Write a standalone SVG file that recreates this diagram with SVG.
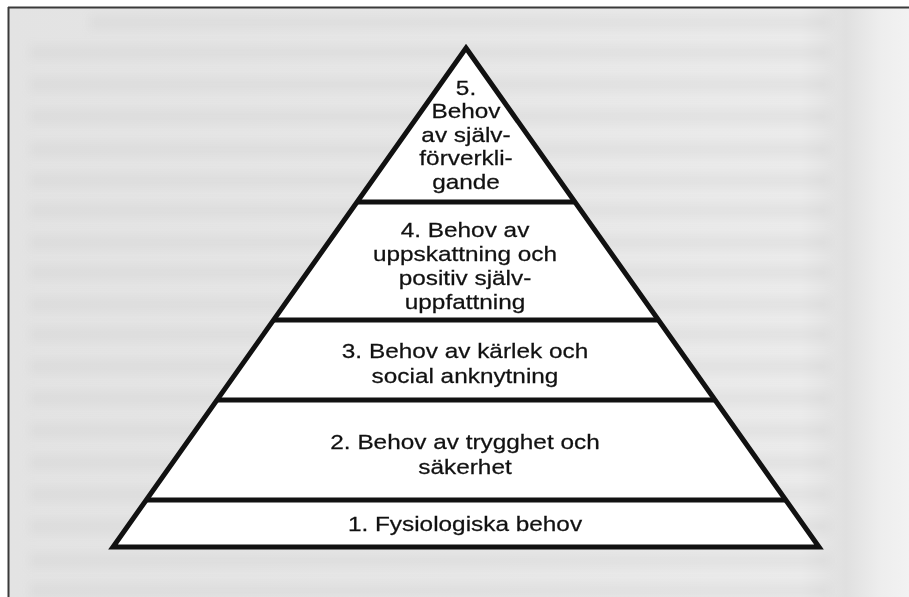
<svg xmlns="http://www.w3.org/2000/svg" width="909" height="597" viewBox="0 0 909 597">
  <defs>
    <linearGradient id="paper" x1="0" y1="0" x2="1" y2="0">
      <stop offset="0" stop-color="#e3e3e3"/>
      <stop offset="0.5" stop-color="#e7e7e7"/>
      <stop offset="0.88" stop-color="#ebebeb"/>
      <stop offset="0.93" stop-color="#e0e0e0"/>
      <stop offset="0.97" stop-color="#eeeeee"/>
      <stop offset="1" stop-color="#f2f2f2"/>
    </linearGradient>
    <filter id="blur" x="-5%" y="-50%" width="110%" height="200%">
      <feGaussianBlur stdDeviation="4"/>
    </filter>
    <style>
      .tier { fill: #ffffff; stroke: none; }
      .outline { fill: none; stroke: #111111; stroke-width: 5; stroke-linejoin: miter; stroke-miterlimit: 10; }
      .divider { stroke: #111111; stroke-width: 5; stroke-linecap: butt; }
      .label { font-family: "Liberation Sans", Arial, Helvetica, sans-serif; font-size: 21px; fill: #111111; stroke: #111111; stroke-width: 0.25; text-anchor: middle; }
      .band { fill: #c4c4c4; opacity: 0.22; }
    </style>
  </defs>

  <!-- paper -->
  <rect x="0" y="0" width="909" height="597" fill="#ffffff"/>
  <rect x="8" y="7" width="901" height="590" fill="url(#paper)"/>
  <g filter="url(#blur)">
    <rect class="band" x="90" y="16" width="740" height="13"/>
    <rect class="band" x="30" y="46" width="800" height="13"/>
    <rect class="band" x="30" y="78" width="800" height="13"/>
    <rect class="band" x="30" y="110" width="800" height="13"/>
    <rect class="band" x="30" y="143" width="800" height="13"/>
    <rect class="band" x="30" y="174" width="800" height="13"/>
    <rect class="band" x="30" y="204" width="800" height="13"/>
    <rect class="band" x="30" y="236" width="800" height="13"/>
    <rect class="band" x="30" y="266" width="800" height="13"/>
    <rect class="band" x="30" y="298" width="800" height="13"/>
    <rect class="band" x="30" y="328" width="800" height="13"/>
    <rect class="band" x="30" y="360" width="800" height="13"/>
    <rect class="band" x="30" y="392" width="800" height="13"/>
    <rect class="band" x="30" y="424" width="800" height="13"/>
    <rect class="band" x="30" y="456" width="800" height="13"/>
    <rect class="band" x="30" y="488" width="800" height="13"/>
    <rect class="band" x="30" y="520" width="800" height="13"/>
    <rect class="band" x="30" y="554" width="800" height="13"/>
    <rect class="band" x="30" y="584" width="800" height="13"/>
  </g>
  <line x1="8" y1="7.5" x2="909" y2="7.5" stroke="#3a3a3a" stroke-width="2"/>
  <line x1="8.5" y1="7" x2="8.5" y2="597" stroke="#3a3a3a" stroke-width="2"/>

  <!-- tiers -->
  <g id="level5">
    <polygon class="tier" points="466,48 357,202 575,202"/>
    <g transform="translate(466,0) scale(1.16,1)">
      <text class="label" x="0" y="95">5.</text>
      <text class="label" x="0" y="118">Behov</text>
      <text class="label" x="0" y="142">av själv-</text>
      <text class="label" x="0" y="165">förverkli-</text>
      <text class="label" x="0" y="189">gande</text>
    </g>
  </g>
  <g id="level4">
    <polygon class="tier" points="357,202 575,202 658.6,320 273.4,320"/>
    <g transform="translate(465,0) scale(1.16,1)">
      <text class="label" x="0" y="237">4. Behov av</text>
      <text class="label" x="0" y="261">uppskattning och</text>
      <text class="label" x="0" y="285">positiv själv-</text>
      <text class="label" x="0" y="309">uppfattning</text>
    </g>
  </g>
  <g id="level3">
    <polygon class="tier" points="273.4,320 658.6,320 715.2,400 216.8,400"/>
    <g transform="translate(465,0) scale(1.16,1)">
      <text class="label" x="0" y="358">3. Behov av kärlek och</text>
      <text class="label" x="0" y="383">social anknytning</text>
    </g>
  </g>
  <g id="level2">
    <polygon class="tier" points="216.8,400 715.2,400 786,500 146,500"/>
    <g transform="translate(465,0) scale(1.16,1)">
      <text class="label" x="0" y="449">2. Behov av trygghet och</text>
      <text class="label" x="0" y="474">säkerhet</text>
    </g>
  </g>
  <g id="level1">
    <polygon class="tier" points="146,500 786,500 819,547 113,547"/>
    <g transform="translate(465,0) scale(1.16,1)">
      <text class="label" x="0" y="531">1. Fysiologiska behov</text>
    </g>
  </g>

  <!-- outline and dividers -->
  <g id="connectors">
    <line class="divider" x1="357" y1="202" x2="575" y2="202"/>
    <line class="divider" x1="273.4" y1="320" x2="658.6" y2="320"/>
    <line class="divider" x1="216.8" y1="400" x2="715.2" y2="400"/>
    <line class="divider" x1="146" y1="500" x2="786" y2="500"/>
    <polygon class="outline" points="466,48 819,547 113,547"/>
  </g>
</svg>
